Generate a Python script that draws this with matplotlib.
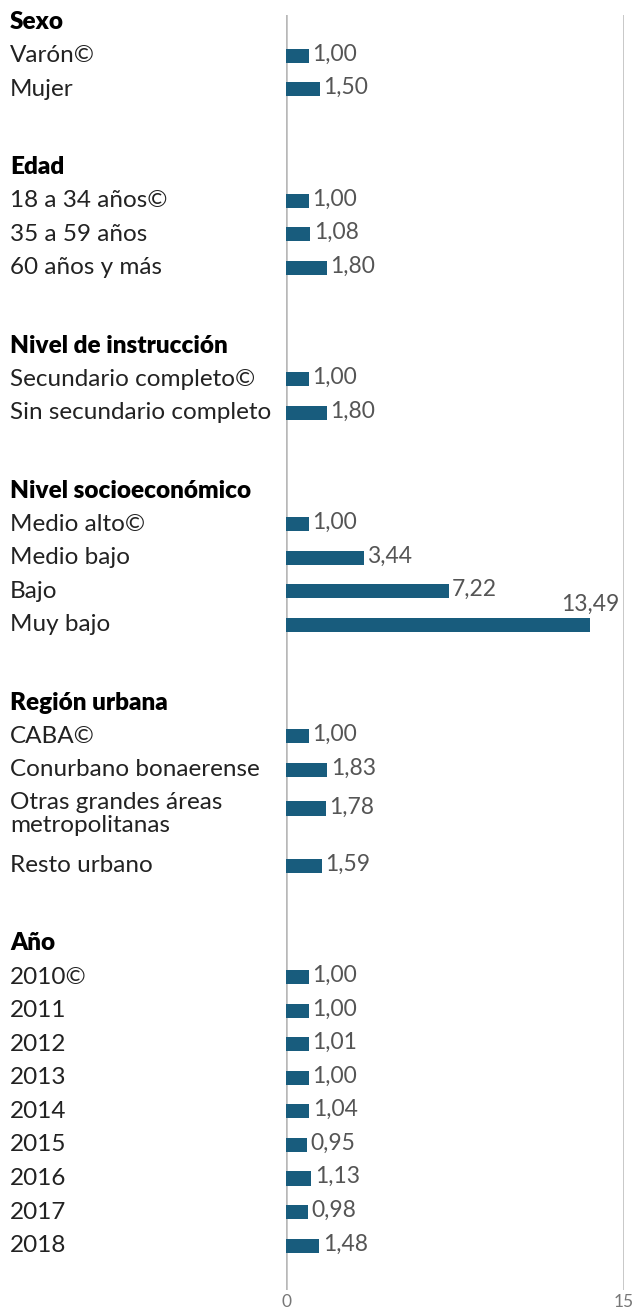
import matplotlib
matplotlib.use("Agg")
import matplotlib.pyplot as plt

# data
groups = ["Sexo", "Edad", "Nivel de instrucción", "Nivel socioeconómico",
          "Región urbana", "Año"]
labels = [
    ["Varón©", "Mujer"],
    ["18 a 34 años©", "35 a 59 años", "60 años y más"],
    ["Secundario completo©", "Sin secundario completo"],
    ["Medio alto©", "Medio bajo", "Bajo", "Muy bajo"],
    ["CABA©", "Conurbano bonaerense", "Otras grandes áreas\nmetropolitanas",
     "Resto urbano"],
    ["2010©", "2011", "2012", "2013", "2014", "2015", "2016", "2017", "2018"],
]
values = [
    [1.00, 1.50],
    [1.00, 1.08, 1.80],
    [1.00, 1.80],
    [1.00, 3.44, 7.22, 13.49],
    [1.00, 1.83, 1.78, 1.59],
    [1.00, 1.00, 1.01, 1.00, 1.04, 0.95, 1.13, 0.98, 1.48],
]
xticks = [0, 15]

bar_color = "#185C7D"
txt_color = "#555555"
font = ["Lato", "DejaVu Sans"]
plt.rcParams["font.family"] = font

W, H = 636, 1313
fig = plt.figure(figsize=(W / 100, H / 100), dpi=100)
ax_left, ax_right, ax_top, ax_bot = 286, 624, 15, 1290
ax = fig.add_axes([ax_left / W, (H - ax_bot) / H,
                   (ax_right - ax_left) / W, (ax_bot - ax_top) / H])

row_px = 33.57
ax.set_xlim(0, 15)
ax.set_ylim((ax_bot - 22) / row_px, -(22 - ax_top) / row_px)

for s in ax.spines.values():
    s.set_visible(False)
for xv in xticks:
    ax.axvline(xv, color="#b8b8b8", lw=1.8, zorder=1)
ax.set_xticks(xticks)
ax.set_xticklabels([str(x) for x in xticks])
ax.tick_params(axis="x", length=0, pad=3, labelsize=12.5, labelcolor="#777777")
ax.set_yticks([])

lbl_x = (10 - ax_left) / (ax_right - ax_left)
ytr = ax.get_yaxis_transform()

y = 0.0
for g, labs, vals in zip(groups, labels, values):
    ax.text(lbl_x, y, g, transform=ytr, ha="left", va="center",
            fontsize=17.5, fontweight="heavy", color="black")
    y += 1.0
    for lab, v in zip(labs, vals):
        two = "\n" in lab
        if two:
            y += 0.15
        ax.barh(y, v, height=0.42, color=bar_color, zorder=2)
        if two:
            ax.text(lbl_x, y - 0.5, lab, transform=ytr, ha="left", va="top",
                    fontsize=17.5, color="#222222", linespacing=1.12)
        else:
            ax.text(lbl_x, y, lab, transform=ytr, ha="left", va="center",
                    fontsize=17.5, color="#222222")
        vl = f"{v:.2f}".replace(".", ",")
        if v > 12:
            ax.text(v, y - 0.3, vl, ha="center", va="bottom",
                    fontsize=16.5, color=txt_color)
        else:
            ax.text(v + 0.15, y - 0.05, vl, ha="left", va="center",
                    fontsize=16.5, color=txt_color)
        y += 1.7 if two else 1.0
    y += 1.32

fig.savefig("out.png", dpi=100)
